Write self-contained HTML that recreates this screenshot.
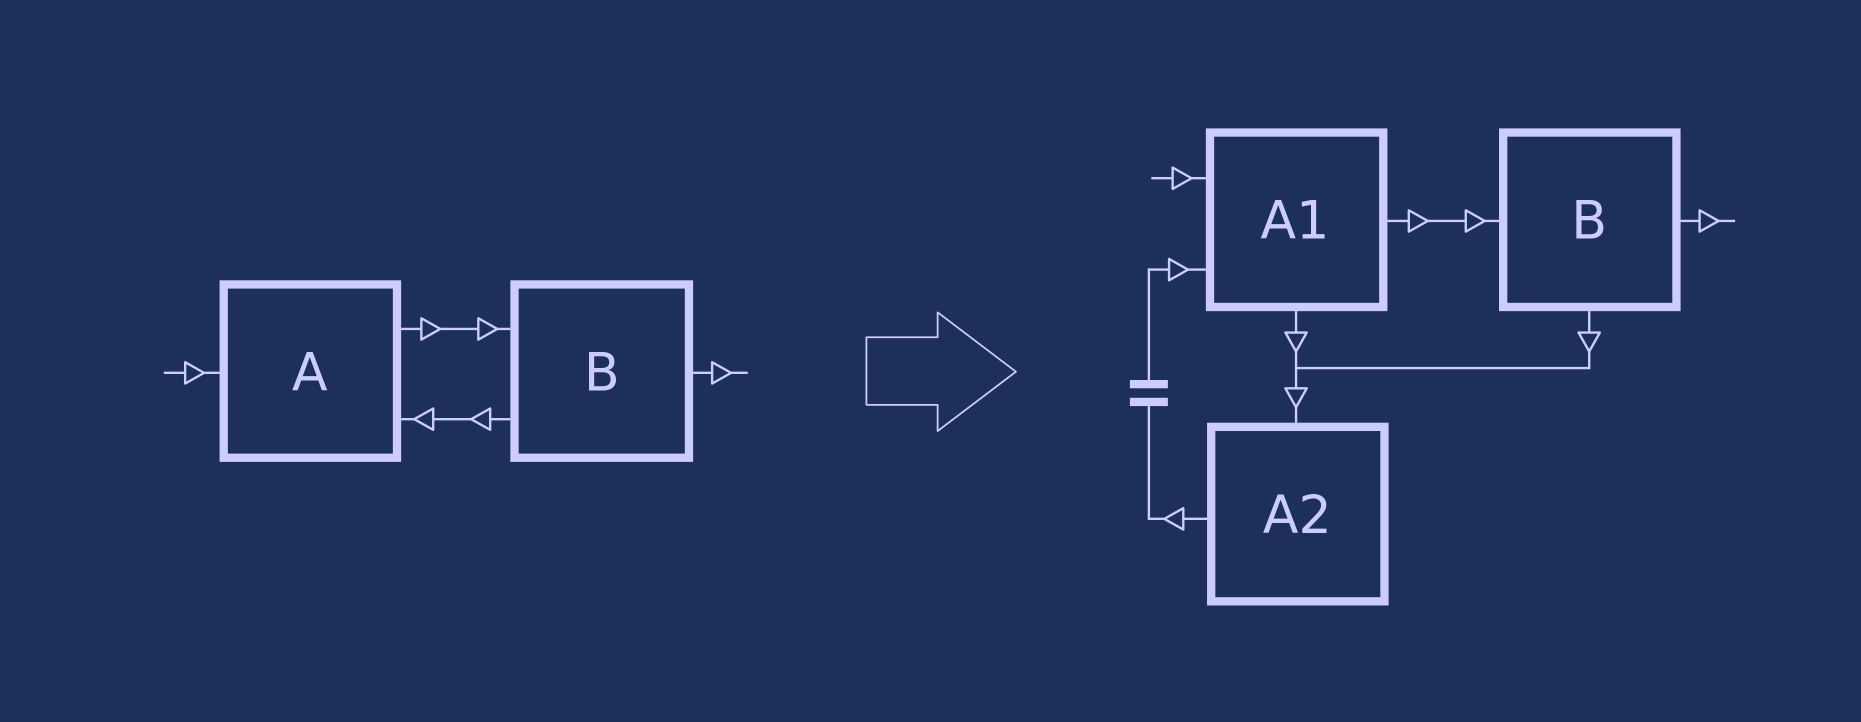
<!DOCTYPE html>
<html><head><meta charset="utf-8"><style>
html,body{margin:0;padding:0;background:#1d2f5b;}
svg{display:block;}
text{font-family:"DejaVu Sans","Liberation Sans",sans-serif;font-size:44px;fill:#ccccff;text-anchor:middle;}
</style></head><body>
<svg width="1861" height="722" viewBox="0 0 1568 608" xmlns="http://www.w3.org/2000/svg">
<rect width="1568" height="608" fill="#1d2f5b"/>
<defs>
<g id="tr"><polygon points="-8,-9 8,0 -8,9" fill="#1d2f5b" stroke="#ccccff" stroke-width="2" stroke-linejoin="round"/></g>
</defs>
<g fill="none" stroke="#ccccff" stroke-width="2">
<!-- left diagram lines -->
<line x1="138" y1="314" x2="185" y2="314"/>
<line x1="338" y1="277" x2="430" y2="277"/>
<line x1="338" y1="353" x2="430" y2="353"/>
<line x1="584" y1="314" x2="630" y2="314"/>
<!-- right diagram lines -->
<line x1="970" y1="150" x2="1016" y2="150"/>
<polyline points="1016,227 968,227 968,320"/>
<polyline points="968,342 968,437 1017,437"/>
<line x1="1169" y1="186" x2="1263" y2="186"/>
<line x1="1416" y1="186" x2="1462" y2="186"/>
<line x1="1092" y1="262" x2="1092" y2="356"/>
<polyline points="1092,310 1339,310 1339,262"/>
</g>
<!-- capacitor plates -->
<rect x="952" y="320" width="32" height="7" fill="#ccccff"/>
<rect x="952" y="335" width="32" height="7" fill="#ccccff"/>
<!-- boxes -->
<g fill="#1d2f5b" stroke="#ccccff" stroke-width="7">
<rect x="188.5" y="239.5" width="146" height="146"/>
<rect x="433.5" y="239.5" width="147" height="146"/>
<rect x="1019.5" y="111.5" width="146" height="147"/>
<rect x="1266.5" y="111.5" width="146" height="147"/>
<rect x="1020.5" y="359.5" width="146" height="147"/>
</g>
<!-- arrowheads -->
<use href="#tr" transform="translate(164,314)"/>
<use href="#tr" transform="translate(363,277)"/>
<use href="#tr" transform="translate(411,277)"/>
<use href="#tr" transform="translate(357,353) rotate(180)"/>
<use href="#tr" transform="translate(405,353) rotate(180)"/>
<use href="#tr" transform="translate(608,314)"/>
<use href="#tr" transform="translate(996,150)"/>
<use href="#tr" transform="translate(993,227)"/>
<use href="#tr" transform="translate(989,437) rotate(180)"/>
<use href="#tr" transform="translate(1195,186)"/>
<use href="#tr" transform="translate(1243,186)"/>
<use href="#tr" transform="translate(1440,186)"/>
<use href="#tr" transform="translate(1092,288) rotate(90)"/>
<use href="#tr" transform="translate(1092,335) rotate(90)"/>
<use href="#tr" transform="translate(1339,288) rotate(90)"/>
<!-- big arrow -->
<path d="M730,284 L790,284 L790,263 L856,313 L790,363 L790,341 L730,341 Z" fill="none" stroke="#ccccff" stroke-width="1.5" stroke-linejoin="round"/>
<!-- labels -->
<text x="261" y="329">A</text>
<text x="507" y="329">B</text>
<text x="1091" y="201">A1</text>
<text x="1339" y="201">B</text>
<text x="1093" y="449">A2</text>
</svg>
</body></html>
